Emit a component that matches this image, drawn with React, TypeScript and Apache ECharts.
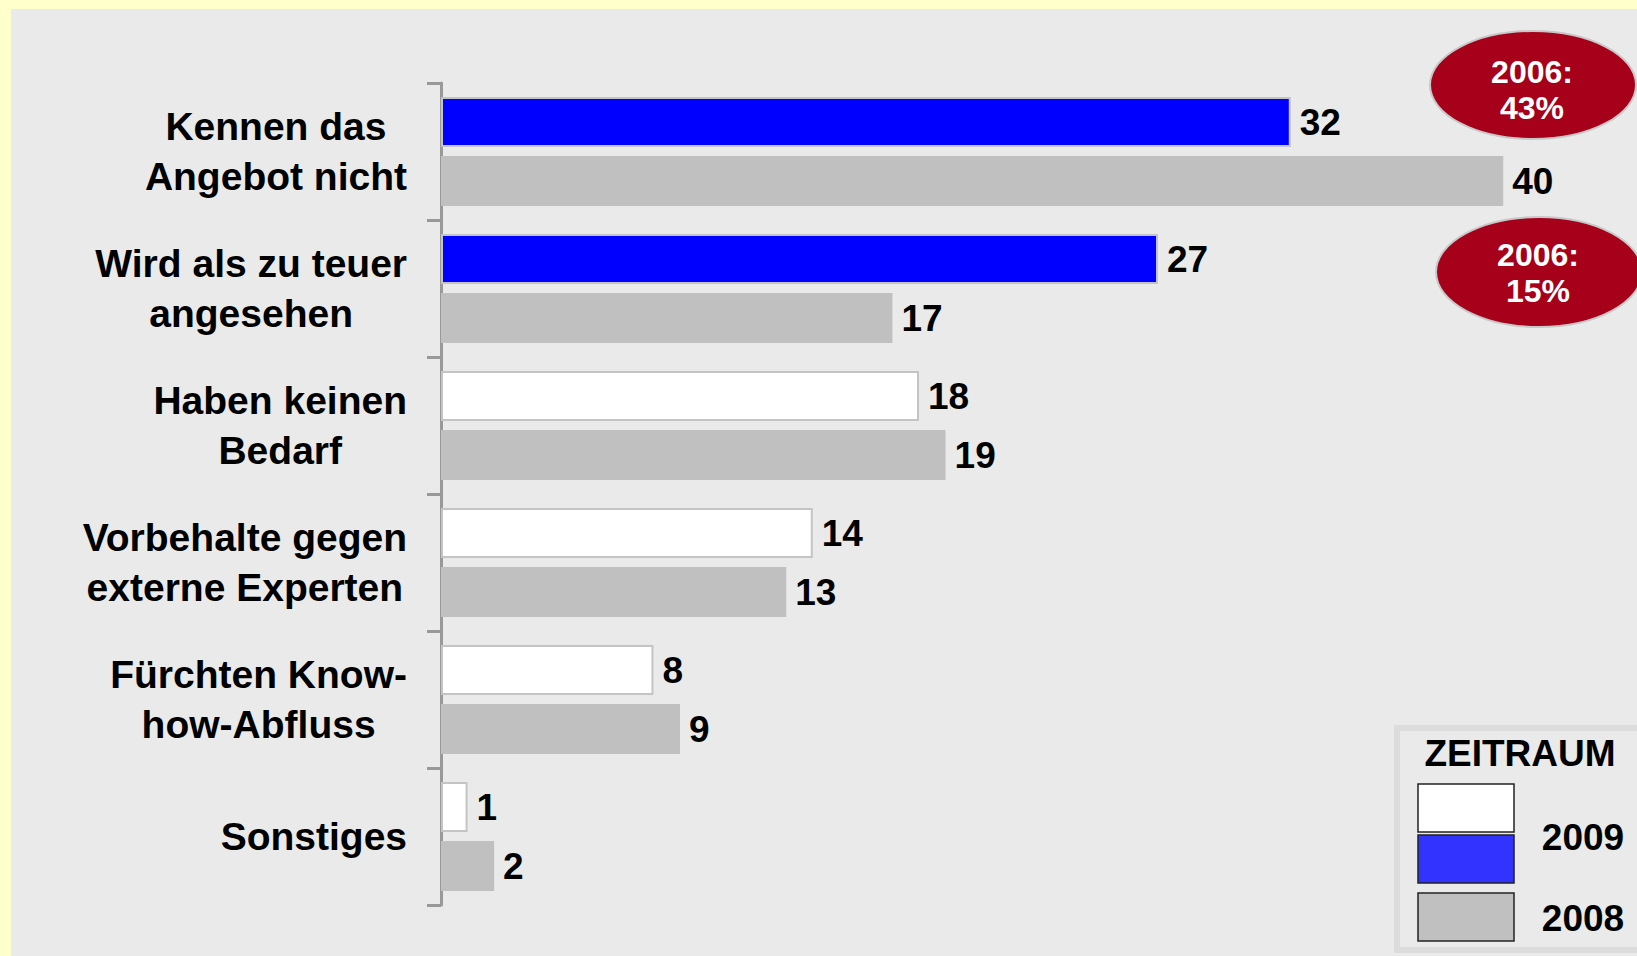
import React, { useEffect, useRef } from "react";
import * as echarts from "echarts";

const categories = [
  "Kennen das\nAngebot nicht",
  "Wird als zu teuer\nangesehen",
  "Haben keinen\nBedarf",
  "Vorbehalte gegen\nexterne Experten",
  "Fürchten Know-\nhow-Abfluss",
  "Sonstiges",
];
const values2009 = [32, 27, 18, 14, 8, 1];
const values2008 = [40, 17, 19, 13, 9, 2];
const highlight2009 = [true, true, false, false, false, false];
const notes = ["2006:\n43%", "2006:\n15%"];
const legendTitle = "ZEITRAUM";
const legendYears = ["2009", "2008"];

const FONT = "'Liberation Sans', Arial, Helvetica, sans-serif";

export default function App() {
  const ref = useRef<HTMLDivElement>(null);
  useEffect(() => {
    document.body.style.margin = "0";
    const chart = echarts.init(ref.current!, null, { renderer: "svg" });
    const labelStyle = {
      show: true,
      position: "right",
      distance: 9,
      fontSize: 37,
      fontWeight: "bold",
      fontFamily: FONT,
      color: "#000",
    };
    chart.setOption({
      animation: false,
      backgroundColor: "#FFFFCC",
      grid: { left: 441, top: 83, height: 822, width: 1195 },
      xAxis: { type: "value", min: 0, max: 45, show: false },
      yAxis: {
        type: "category",
        inverse: true,
        data: categories,
        axisLine: { show: true, lineStyle: { color: "#999999", width: 3 } },
        axisTick: { show: true, length: 14, lineStyle: { color: "#999999", width: 3 } },
        splitLine: { show: false },
        axisLabel: {
          margin: 34,
          formatter: (v: string) =>
            v.split("\n").map((l) => `{a|${l}}`).join("\n"),
          rich: {
            a: {
              align: "center",
              fontSize: 39,
              fontWeight: "bold",
              fontFamily: FONT,
              color: "#000",
              lineHeight: 50,
            },
          },
        },
      },
      series: [
        {
          name: "2009",
          type: "bar",
          barWidth: 50,
          barGap: "18%",
          data: values2009.map((v, i) => ({
            value: v,
            itemStyle: {
              color: highlight2009[i] ? "#0000FF" : "#FFFFFF",
              borderColor: "#C4C4C4",
              borderWidth: 2,
            },
          })),
          label: labelStyle,
        },
        {
          name: "2008",
          type: "bar",
          barWidth: 50,
          barGap: "18%",
          itemStyle: { color: "#C0C0C0" },
          data: values2008,
          label: labelStyle,
        },
      ],
      graphic: [
        {
          type: "rect",
          z: -10,
          shape: { x: 11, y: 9, width: 1626, height: 947 },
          style: { fill: "#EAEAEA" },
        },
        {
          type: "ellipse",
          z: 10,
          shape: { cx: 1533, cy: 85, rx: 103, ry: 54 },
          style: { fill: "#A6001A", stroke: "#C8C8C8", lineWidth: 2 },
        },
        {
          type: "text",
          z: 11,
          x: 1532,
          y: 90,
          style: {
            text: notes[0],
            fill: "#fff",
            font: `bold 32px ${FONT}`,
            align: "center",
            verticalAlign: "middle",
            lineHeight: 36,
          },
        },
        {
          type: "ellipse",
          z: 10,
          shape: { cx: 1539, cy: 272, rx: 103, ry: 55 },
          style: { fill: "#A6001A", stroke: "#C8C8C8", lineWidth: 2 },
        },
        {
          type: "text",
          z: 11,
          x: 1538,
          y: 273,
          style: {
            text: notes[1],
            fill: "#fff",
            font: `bold 32px ${FONT}`,
            align: "center",
            verticalAlign: "middle",
            lineHeight: 36,
          },
        },
        {
          type: "rect",
          z: 10,
          shape: { x: 1397, y: 728, width: 250, height: 222 },
          style: { fill: "#EAEAEA", stroke: "#DCDCDC", lineWidth: 6 },
        },
        {
          type: "text",
          z: 11,
          x: 1520,
          y: 753,
          style: {
            text: legendTitle,
            fill: "#000",
            font: `bold 37px ${FONT}`,
            align: "center",
            verticalAlign: "middle",
          },
        },
        {
          type: "rect",
          z: 11,
          shape: { x: 1418, y: 784, width: 96, height: 48 },
          style: { fill: "#FFFFFF", stroke: "#222", lineWidth: 1.5 },
        },
        {
          type: "rect",
          z: 11,
          shape: { x: 1418, y: 835, width: 96, height: 48 },
          style: { fill: "#3333FF", stroke: "#222", lineWidth: 1.5 },
        },
        {
          type: "rect",
          z: 11,
          shape: { x: 1418, y: 893, width: 96, height: 48 },
          style: { fill: "#C0C0C0", stroke: "#222", lineWidth: 1.5 },
        },
        {
          type: "text",
          z: 11,
          x: 1583,
          y: 837,
          style: {
            text: legendYears[0],
            fill: "#000",
            font: `bold 37px ${FONT}`,
            align: "center",
            verticalAlign: "middle",
          },
        },
        {
          type: "text",
          z: 11,
          x: 1583,
          y: 918,
          style: {
            text: legendYears[1],
            fill: "#000",
            font: `bold 37px ${FONT}`,
            align: "center",
            verticalAlign: "middle",
          },
        },
      ],
    });
    return () => chart.dispose();
  }, []);
  return <div ref={ref} style={{ width: 1637, height: 956 }} />;
}
